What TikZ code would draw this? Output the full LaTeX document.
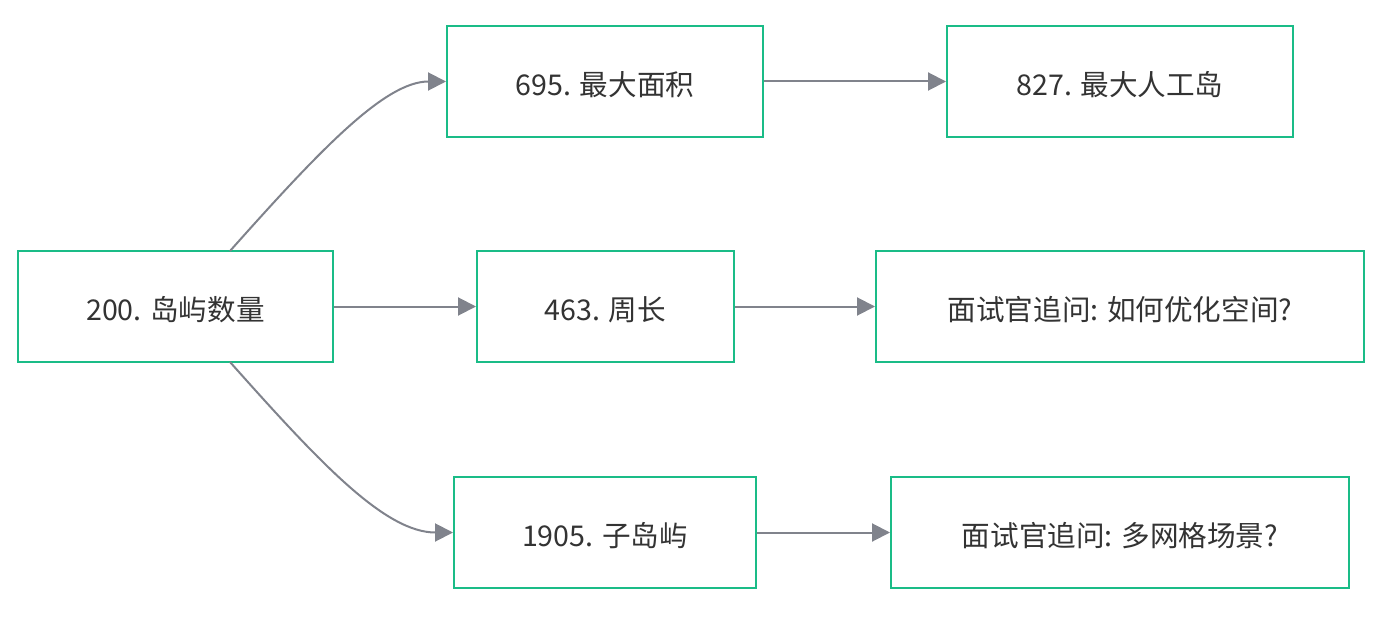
\documentclass[tikz,border=0pt]{standalone}
\usepackage{fontspec}
\newfontfamily\cjk{Noto Sans CJK SC}
\usetikzlibrary{arrows.meta}
\definecolor{boxgreen}{RGB}{26,188,135}
\definecolor{edgegrey}{RGB}{128,131,140}
\definecolor{txt}{RGB}{51,51,51}
\newcommand{\lbl}[1]{\raisebox{-14pt}[0pt][0pt]{#1}}
\begin{document}
\begin{tikzpicture}[x=1pt,y=-1pt,
  box/.style={draw=boxgreen,line width=2pt,fill=white,minimum height=111pt,
    inner sep=0pt,text=txt,font=\cjk\fontsize{28.6}{34}\selectfont},
  edge/.style={draw=edgegrey,line width=2pt,-{Triangle[length=18pt,width=18pt]}}]
\useasboundingbox (0,0) rectangle (1396,628);
\node[box,minimum width=315pt] (A) at (175.5,306.5) {\lbl{200. 岛屿数量}};
\node[box,minimum width=316pt] (B) at (605,81.5) {\lbl{695. 最大面积}};
\node[box,minimum width=346pt] (C) at (1120,81.5) {\lbl{827. 最大人工岛}};
\node[box,minimum width=257pt] (D) at (605.5,306.5) {\lbl{463. 周长}};
\node[box,minimum width=488pt] (E) at (1120,306.5) {\lbl{面试官追问: 如何优化空间?}};
\node[box,minimum width=302pt] (F) at (605,532.5) {\lbl{1905. 子岛屿}};
\node[box,minimum width=458pt] (G) at (1120,532.5) {\lbl{面试官追问: 多网格场景?}};
\coordinate (Atop) at (230,251);
\coordinate (Abot) at (230,362);
\draw[edge] (Atop) .. controls (320,150) and (385,81.5) .. (B.west);
\draw[edge] (Abot) .. controls (320,463) and (385,532.5) .. (F.west);
\draw[edge] (A) -- (D);
\draw[edge] (B) -- (C);
\draw[edge] (D) -- (E);
\draw[edge] (F) -- (G);
\end{tikzpicture}
\end{document}
